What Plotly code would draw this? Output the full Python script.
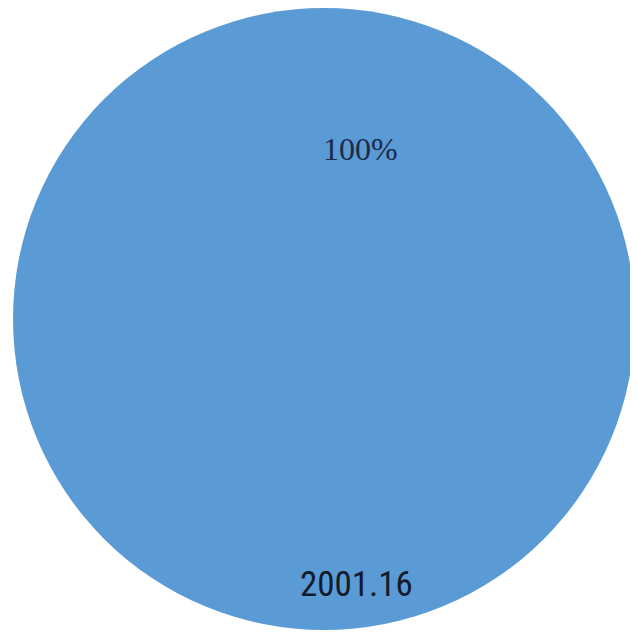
import plotly.graph_objects as go

labels = ["2001.16"]
values = [2001.16]
percent_labels = ["100%"]

# the page body has an 8px default margin, so the figure is drawn 8px smaller
W, H = 630, 629

fig = go.Figure()
fig.add_trace(go.Pie(
    labels=labels,
    values=values,
    textinfo="none",
    marker=dict(colors=["#5B9BD5"], line=dict(width=0)),
    sort=False,
    showlegend=False,
    hoverinfo="label+percent",
    domain=dict(x=[5 / W, 627 / W], y=[1 - 622 / H, 1.0]),
))

fig.add_annotation(
    x=352 / W, y=1 - 141 / H, xref="paper", yref="paper",
    xanchor="center", yanchor="middle",
    text=percent_labels[0], showarrow=False,
    font=dict(family="Liberation Serif", size=32, color="#1B2A48"),
)
fig.add_annotation(
    x=348 / W, y=1 - 576 / H, xref="paper", yref="paper",
    xanchor="center", yanchor="middle",
    text=labels[0], showarrow=False,
    font=dict(family="Liberation Sans Narrow, Roboto Condensed, Roboto", size=35, color="#111B2B"),
)

fig.update_layout(
    width=W, height=H,
    margin=dict(l=0, r=0, t=0, b=0),
    paper_bgcolor="white",
    plot_bgcolor="white",
)

fig.write_html("out.html")
